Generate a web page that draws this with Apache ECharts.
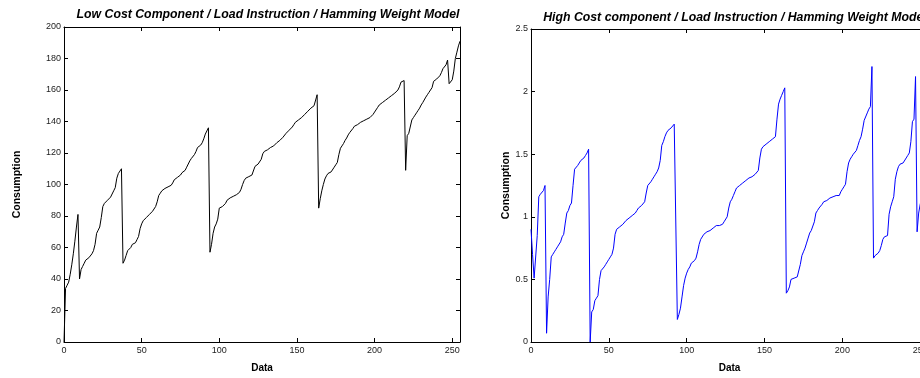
<!DOCTYPE html>
<html>
<head>
<meta charset="utf-8">
<script src="https://cdn.jsdelivr.net/npm/echarts@6/dist/echarts.min.js"></script>
<style>
  html, body { margin: 0; padding: 0; background: #fff; }
  #chart { width: 920px; height: 378px; }
</style>
</head>
<body>
<div id="chart"></div>
<script>
const TITLE_LOW = 'Low Cost Component / Load Instruction / Hamming Weight Model';
const TITLE_HIGH = 'High Cost component / Load Instruction / Hamming Weight Model';

// 低成本分量（索引 0..255）
const lowCost = [
  0, 34, 36, 38, 43, 49, 56, 64, 73, 81,
  40, 46, 48, 50, 52, 53, 53.5, 54, 56, 58,
  62, 69, 71, 73, 79, 86, 88, 89, 90, 90.5,
  92, 93, 96, 98, 104, 107, 108, 110, 50, 52,
  55, 58, 59, 60, 62, 63, 63, 65, 67, 72,
  75, 77, 78, 79, 80, 81, 82, 83, 84, 86,
  89, 93, 94.5, 96, 97, 97.5, 98, 98.5, 99, 99.5,
  101, 103, 104, 104.5, 105, 106, 107.5, 108.5, 109, 111,
  113, 115, 116.5, 117.5, 119, 121, 123.5, 124.5, 125, 126.5,
  129, 132, 134, 136, 57, 62, 69, 73, 75, 78,
  85, 86, 86, 87, 88, 90, 91, 91.5, 92, 92.5,
  93, 93.5, 94, 95, 97, 100, 102.5, 104, 104.5, 105,
  105.5, 106, 107, 111.5, 112.5, 113, 114, 116, 119.5, 121,
  121.5, 122, 123, 123.5, 124, 124.5, 125.5, 126.5, 127, 128,
  129, 130, 131, 132.5, 133.5, 134.5, 135.5, 136.5, 138, 139.5,
  140.5, 141, 141.5, 142.5, 143.5, 144.5, 145, 146.5, 147.5, 148.5,
  149.5, 150, 150, 157, 85, 91, 96, 100, 103.5, 105.5,
  107, 107.5, 108, 109, 111, 112.5, 114, 119, 123, 124.5,
  126, 128, 129.5, 131.5, 133, 134, 135.5, 137, 137.5, 138,
  139, 139.5, 140, 140.5, 141, 141.5, 142, 142.5, 143, 144.5,
  146, 147, 149, 150.5, 151.5, 152, 152.5, 153.5, 154.5, 155,
  155.5, 156.5, 157.5, 158, 159, 160, 162, 165, 166, 166,
  109, 131, 132.5, 133.5, 141, 142.5, 144, 145.5, 147, 148.5,
  150.5, 152, 153, 155.5, 157, 158.5, 160, 161.5, 165.5, 166.5,
  167, 168, 169, 171, 173.5, 174.5, 176, 179, 164, 164.5,
  166.5, 172, 180, 184, 188, 191
];

// 高成本分量（索引 0..255，右側超出畫面部分為估計）
const highCost = [
  0.90, 0.70, 0.51, 0.52, 0.85, 1.16, 1.18, 1.19, 1.21, 1.25,
  0.07, 0.36, 0.50, 0.68, 0.70, 0.72, 0.74, 0.76, 0.77, 0.80,
  0.84, 0.86, 0.95, 1.03, 1.05, 1.09, 1.11, 1.25, 1.38, 1.39,
  1.41, 1.43, 1.45, 1.46, 1.47, 1.49, 1.51, 1.54, 0.00, 0.24,
  0.26, 0.33, 0.35, 0.37, 0.50, 0.57, 0.58, 0.60, 0.62, 0.64,
  0.66, 0.68, 0.70, 0.75, 0.86, 0.90, 0.91, 0.92, 0.93, 0.94,
  0.95, 0.97, 0.98, 0.99, 1.00, 1.01, 1.02, 1.03, 1.05, 1.07,
  1.08, 1.09, 1.10, 1.12, 1.19, 1.25, 1.26, 1.28, 1.30, 1.32,
  1.34, 1.36, 1.39, 1.45, 1.57, 1.60, 1.64, 1.67, 1.69, 1.70,
  1.71, 1.72, 1.74, 1.75, 0.18, 0.22, 0.27, 0.36, 0.45, 0.51,
  0.55, 0.58, 0.60, 0.63, 0.64, 0.65, 0.67, 0.72, 0.78, 0.82,
  0.83, 0.86, 0.87, 0.88, 0.88, 0.89, 0.90, 0.91, 0.92, 0.93,
  0.93, 0.93, 0.93, 0.94, 0.96, 0.97, 1.00, 1.07, 1.12, 1.14,
  1.17, 1.20, 1.23, 1.24, 1.25, 1.26, 1.27, 1.27, 1.29, 1.30,
  1.31, 1.31, 1.32, 1.33, 1.34, 1.35, 1.37, 1.47, 1.54, 1.56,
  1.57, 1.58, 1.59, 1.60, 1.61, 1.62, 1.63, 1.64, 1.78, 1.90,
  1.94, 1.97, 2.00, 2.03, 0.39, 0.41, 0.44, 0.50, 0.51, 0.51,
  0.51, 0.52, 0.53, 0.62, 0.69, 0.72, 0.75, 0.79, 0.83, 0.87,
  0.89, 0.90, 0.96, 1.03, 1.05, 1.07, 1.08, 1.10, 1.12, 1.13,
  1.13, 1.14, 1.15, 1.16, 1.16, 1.16, 1.17, 1.17, 1.17, 1.20,
  1.22, 1.24, 1.26, 1.36, 1.43, 1.46, 1.48, 1.50, 1.51, 1.53,
  1.57, 1.61, 1.64, 1.70, 1.77, 1.78, 1.83, 1.86, 1.88, 2.20,
  0.67, 0.69, 0.70, 0.71, 0.73, 0.77, 0.82, 0.84, 0.84, 0.85,
  1.02, 1.08, 1.12, 1.16, 1.30, 1.36, 1.40, 1.42, 1.43, 1.43,
  1.44, 1.47, 1.49, 1.51, 1.60, 1.76, 1.78, 2.12, 0.88, 1.03,
  1.10, 1.15, 1.20, 1.26, 1.32, 1.38
];

const X_MAX = 255;
const X_INTERVAL = 50;
const LOW_Y = { min: 0, max: 200, interval: 20 };
const HIGH_Y = { min: 0, max: 2.5, interval: 0.5 };

const FONT = 'Liberation Sans, Arial, Helvetica, sans-serif';
const AXIS_COLOR = '#000';
const LABEL_COLOR = '#222';

function toPairs(values) {
  return values.map((v, i) => [i, v]);
}

// MATLAB 風格：四邊框線，刻度朝內
function makeXAxes(gridIndex) {
  const base = {
    type: 'value', gridIndex, min: 0, max: X_MAX, interval: X_INTERVAL,
    splitLine: { show: false },
    axisLine: { show: true, onZero: false, lineStyle: { color: AXIS_COLOR, width: 1 } },
    axisTick: { show: true, inside: true, length: 4, lineStyle: { color: AXIS_COLOR } }
  };
  return [
    {
      ...base, position: 'bottom',
      name: 'Data', nameLocation: 'middle', nameGap: 21,
      nameTextStyle: { fontFamily: FONT, fontSize: 10, fontWeight: 'bold', color: '#000' },
      axisLabel: { color: LABEL_COLOR, fontFamily: FONT, fontSize: 9, margin: 4, showMaxLabel: false }
    },
    { ...base, position: 'top', axisLabel: { show: false } }
  ];
}

function makeYAxes(gridIndex, range, nameGap) {
  const base = {
    type: 'value', gridIndex, min: range.min, max: range.max, interval: range.interval,
    splitLine: { show: false },
    axisLine: { show: true, onZero: false, lineStyle: { color: AXIS_COLOR, width: 1 } },
    axisTick: { show: true, inside: true, length: 4, lineStyle: { color: AXIS_COLOR } }
  };
  return [
    {
      ...base, position: 'left',
      name: 'Consumption', nameLocation: 'middle', nameGap,
      nameTextStyle: { fontFamily: FONT, fontSize: 10.5, fontWeight: 'bold', color: '#000' },
      axisLabel: { color: LABEL_COLOR, fontFamily: FONT, fontSize: 9, margin: 3 }
    },
    { ...base, position: 'right', axisLabel: { show: false } }
  ];
}

const chart = echarts.init(document.getElementById('chart'), null, { renderer: 'canvas' });

chart.setOption({
  animation: false,
  backgroundColor: '#fff',
  title: [
    {
      text: TITLE_LOW, left: 263, top: 4, textAlign: 'center',
      textStyle: { fontFamily: FONT, fontSize: 12.3, fontWeight: 'bold', fontStyle: 'italic', color: '#000' }
    },
    {
      text: TITLE_HIGH, left: 730, top: 7, textAlign: 'center',
      textStyle: { fontFamily: FONT, fontSize: 12.3, fontWeight: 'bold', fontStyle: 'italic', color: '#000' }
    }
  ],
  grid: [
    { left: 64, top: 27, width: 396, height: 315, outerBoundsMode: 'none' },
    { left: 531, top: 29, width: 397, height: 313, outerBoundsMode: 'none' }
  ],
  xAxis: [...makeXAxes(0), ...makeXAxes(1)],
  yAxis: [...makeYAxes(0, LOW_Y, 41), ...makeYAxes(1, HIGH_Y, 15)],
  series: [
    {
      name: 'Low Cost', type: 'line', xAxisIndex: 0, yAxisIndex: 0,
      data: toPairs(lowCost), showSymbol: false, smooth: false,
      lineStyle: { color: '#000', width: 1 }
    },
    {
      name: 'High Cost', type: 'line', xAxisIndex: 2, yAxisIndex: 2,
      data: toPairs(highCost), showSymbol: false, smooth: false,
      lineStyle: { color: '#0000ff', width: 1 }
    }
  ]
});
</script>
</body>
</html>
